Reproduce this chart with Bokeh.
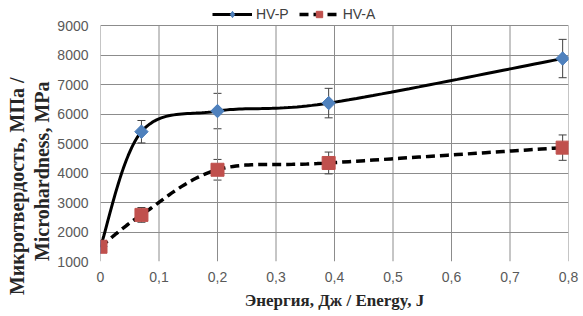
import numpy as np
from bokeh.plotting import figure
from bokeh.models import ColumnDataSource, Whisker, TeeHead, Legend, LegendItem, FixedTicker, Range1d, Title
from bokeh.embed import file_html
from bokeh.resources import INLINE

# Data
energy = [0.0, 0.07, 0.2, 0.39, 0.79]
hv_p = [1500, 5400, 6100, 6370, 7880]
hv_p_err = [0, 380, 600, 500, 650]
hv_a = [1500, 2580, 4110, 4340, 4860]
hv_a_err = [0, 250, 350, 370, 430]
x_ticks = [0, 0.1, 0.2, 0.3, 0.4, 0.5, 0.6, 0.7, 0.8]
x_tick_labels = ["0", "0,1", "0,2", "0,3", "0,4", "0,5", "0,6", "0,7", "0,8"]
y_ticks = [1000, 2000, 3000, 4000, 5000, 6000, 7000, 8000, 9000]
y_title_lines = ["Микротвердость, МПа /", "Microhardness, MPa"]
x_title = "Энергия, Дж / Energy, J"

# Excel-like smoothed line (cubic Bezier through the points, in screen-proportional space)
def smooth(xs, ys, sx=584.0, sy=0.0295, n=30):
    P = np.column_stack([np.asarray(xs) * sx, np.asarray(ys) * sy])
    out = []
    m = len(P)
    for i in range(m - 1):
        p0 = P[i - 1] if i > 0 else P[i]
        p1 = P[i]
        p2 = P[i + 1]
        p3 = P[i + 2] if i + 2 < m else P[i + 1]
        c1 = p1 + (p2 - p0) / 6.0
        c2 = p2 - (p3 - p1) / 6.0
        t = np.linspace(0, 1, n)[:, None]
        seg = ((1 - t) ** 3) * p1 + 3 * ((1 - t) ** 2) * t * c1 + 3 * (1 - t) * t ** 2 * c2 + t ** 3 * p2
        out.append(seg if i == 0 else seg[1:])
    pts = np.vstack(out)
    return pts[:, 0] / sx, pts[:, 1] / sy

y_min, y_max = y_ticks[0], y_ticks[-1]
# frame reaches the top of the page so that the legend can sit above the 9000 line
y_top = y_max + 25 / (236 / (y_max - y_min))

p = figure(width=583, height=316, output_backend="svg", toolbar_location=None,
           x_range=Range1d(0, 0.8), y_range=Range1d(y_min, y_top),
           min_border_left=100, min_border_right=15, min_border_top=0, min_border_bottom=55)
p.outline_line_color = None
p.background_fill_color = "white"
p.border_fill_color = "white"

grid_color = "#8c8c8c"
p.xgrid.grid_line_color = None
p.ygrid.ticker = FixedTicker(ticks=y_ticks)
p.ygrid.grid_line_color = grid_color
p.segment(x0=x_ticks, y0=[y_min] * len(x_ticks), x1=x_ticks, y1=[y_max] * len(x_ticks),
          line_color=grid_color, line_width=1)
p.xaxis.ticker = FixedTicker(ticks=x_ticks)
p.yaxis.ticker = FixedTicker(ticks=y_ticks)
p.xaxis.major_label_overrides = {t: l for t, l in zip(x_ticks, x_tick_labels)}
for ax in (p.xaxis, p.yaxis):
    ax.axis_line_color = None
    ax.major_tick_line_color = None
    ax.minor_tick_line_color = None
    ax.major_tick_out = 0
    ax.major_tick_in = 0
    ax.major_label_text_font = "Liberation Sans"
    ax.major_label_text_font_size = "14px"
    ax.major_label_text_color = "#595959"
p.xaxis.axis_label = x_title
p.xaxis.axis_label_text_font = "Liberation Serif"
p.xaxis.axis_label_text_font_style = "bold"
p.xaxis.axis_label_text_font_size = "17px"
p.xaxis.axis_label_text_color = "#262626"
p.xaxis.major_label_standoff = 10
p.yaxis.major_label_standoff = 12
p.yaxis.axis_label_standoff = 0
p.xaxis.axis_label_standoff = 6

# y title as two vertical titles in the left panel (inner line first)
for txt, off, so in zip(reversed(y_title_lines), (81, 77), (3, 0)):
    p.add_layout(Title(text=txt, align="right", offset=off, standoff=so,
                       text_font="Liberation Serif", text_font_style="bold",
                       text_font_size="20px", text_color="#262626"), "left")

# smoothed lines
sxp, syp = smooth(energy, hv_p)
sxa, sya = smooth(energy, hv_a)
lp = p.line(sxp, syp, line_color="black", line_width=3)
la = p.line(sxa, sya, line_color="black", line_width=3.5, line_dash="9 5")

# error bars
src_p = ColumnDataSource(dict(x=energy, up=[v + e for v, e in zip(hv_p, hv_p_err)],
                              lo=[v - e for v, e in zip(hv_p, hv_p_err)]))
src_a = ColumnDataSource(dict(x=energy, up=[v + e for v, e in zip(hv_a, hv_a_err)],
                              lo=[v - e for v, e in zip(hv_a, hv_a_err)]))
for src in (src_p, src_a):
    w = Whisker(source=src, base="x", upper="up", lower="lo", line_color="#404040", line_width=1,
                upper_head=TeeHead(size=8, line_color="#404040", line_width=1),
                lower_head=TeeHead(size=8, line_color="#404040", line_width=1))
    p.add_layout(w)

# diamond glyph (used for the legend), covered by the rotated squares in the plot
mp_leg = p.scatter(energy, hv_p, marker="diamond", size=13,
                   fill_color="#4F81BD", line_color="#4F81BD")
mp = p.scatter(energy, hv_p, marker="square", angle=np.pi / 4, size=9.5,
               fill_color="#4F81BD", line_color="#4F81BD")
ma = p.scatter(energy, hv_a, marker="square", size=13,
               fill_color="#C0504D", line_color="#C0504D")

legend = Legend(items=[LegendItem(label="HV-P", renderers=[lp, mp_leg]),
                       LegendItem(label="HV-A", renderers=[la, ma])],
                location=(112, 239), orientation="horizontal",
                background_fill_alpha=0, border_line_color=None,
                padding=0, margin=0, spacing=10, label_standoff=4,
                glyph_width=40, glyph_height=16,
                label_text_font="Liberation Sans", label_text_font_size="14px",
                label_text_color="#404040")
p.add_layout(legend, "center")

open("out.html", "w").write(file_html(p, INLINE))
